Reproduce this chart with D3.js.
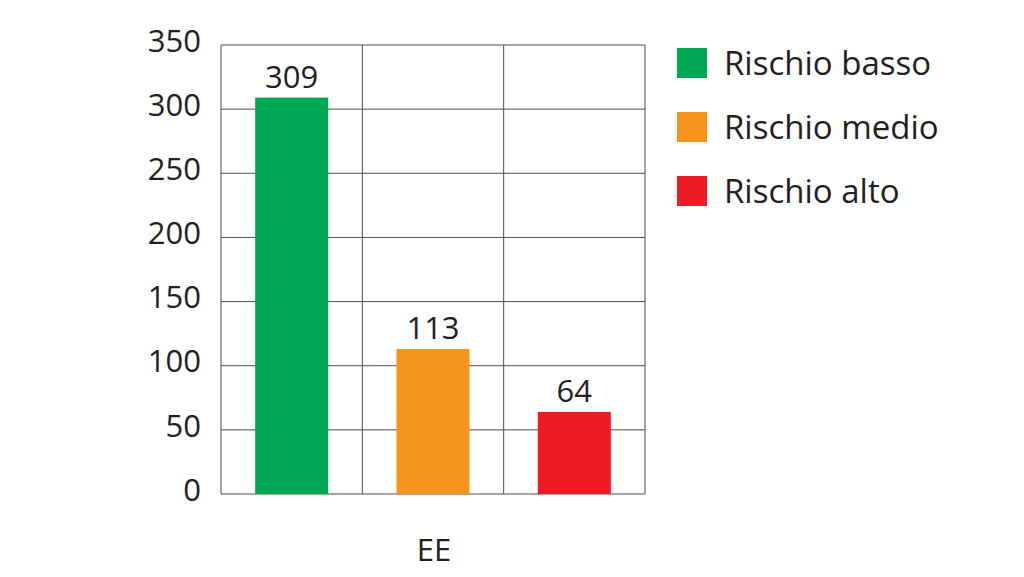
<!DOCTYPE html>
<html>
<head>
<meta charset="utf-8">
<script src="https://cdn.jsdelivr.net/npm/d3@7"></script>
<style>
  body { margin: 0; background: #fff; }
  text { font-family: "Open Sans", "DejaVu Sans", sans-serif; fill: #231f20; }
</style>
</head>
<body>
<svg id="chart" width="1024" height="577"></svg>
<script>
// dati del grafico
const categories = ["Rischio basso", "Rischio medio", "Rischio alto"];
const values = [309, 113, 64];
const colors = ["#00a651", "#f7941d", "#ed1c24"];
const yTicks = [0, 50, 100, 150, 200, 250, 300, 350];
const groupLabel = "EE";

const svg = d3.select("#chart");
const mLeft = 221, mRight = 645, mTop = 45, mBottom = 494;

const x = d3.scaleBand().domain(categories).range([mLeft, mRight]).paddingInner(0).paddingOuter(0);
const y = d3.scaleLinear().domain([0, 350]).range([mBottom, mTop]);

// griglia orizzontale
svg.append("g").selectAll("line").data(yTicks).enter().append("line")
  .attr("x1", mLeft).attr("x2", mRight)
  .attr("y1", d => y(d)).attr("y2", d => y(d))
  .attr("stroke", "#4d4d4d").attr("stroke-width", 1);

// griglia verticale
svg.append("g").selectAll("line").data(d3.range(categories.length + 1)).enter().append("line")
  .attr("x1", i => mLeft + i * x.bandwidth()).attr("x2", i => mLeft + i * x.bandwidth())
  .attr("y1", mTop).attr("y2", mBottom)
  .attr("stroke", "#4d4d4d").attr("stroke-width", 1);

// asse y
const yAxis = svg.append("g").attr("transform", `translate(${mLeft},0)`)
  .call(d3.axisLeft(y).tickValues(yTicks).tickSize(0).tickPadding(20));
yAxis.select(".domain").remove();
yAxis.selectAll("text").style("font-size", "31px").attr("fill", "#231f20").attr("dy", "0.2em");

// barre
const barW = 73;
svg.append("g").selectAll("rect").data(values).enter().append("rect")
  .attr("x", (d, i) => x(categories[i]) + (x.bandwidth() - barW) / 2)
  .attr("y", d => y(d))
  .attr("width", barW)
  .attr("height", d => mBottom - y(d))
  .attr("fill", (d, i) => colors[i]);

// etichette valori
svg.append("g").selectAll("text").data(values).enter().append("text")
  .attr("x", (d, i) => x(categories[i]) + x.bandwidth() / 2)
  .attr("y", d => y(d) - 10)
  .attr("text-anchor", "middle")
  .style("font-size", "31px")
  .text(d => d);

// etichetta categoria
svg.append("text").attr("x", 434).attr("y", 561)
  .attr("text-anchor", "middle").style("font-size", "31px").text(groupLabel);

// legenda
const leg = svg.append("g").selectAll("g").data(categories).enter().append("g")
  .attr("transform", (d, i) => `translate(677,${48 + i * 64})`);
leg.append("rect").attr("width", 30).attr("height", 30).attr("fill", (d, i) => colors[i]);
leg.append("text").attr("x", 47).attr("y", 27).style("font-size", "33px").text(d => d);
</script>
</body>
</html>
